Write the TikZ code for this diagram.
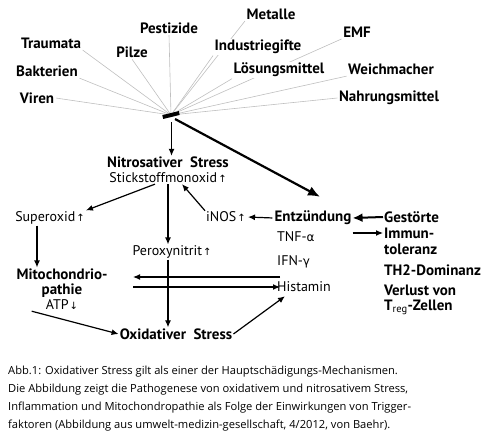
\documentclass[tikz,border=0pt]{standalone}
\usepackage{fontspec}
\setmainfont{PT Sans}
\newfontfamily\capfont{Open Sans}
\newfontfamily\symfont{DejaVu Sans}
\usetikzlibrary{arrows.meta,positioning,calc,backgrounds}
\newcommand{\arrup}{\kern1pt{\symfont\fontsize{10}{10}\selectfont ↑}}
\newcommand{\arrdn}{\kern1pt{\symfont\fontsize{10}{10}\selectfont ↓}}

\begin{document}
\begin{tikzpicture}[x=1pt,y=-1pt,>={Latex[length=7pt,width=6pt]},
 src/.style={font=\fontsize{15}{15}\selectfont\bfseries,inner sep=1.5pt,fill=white},
 bold/.style={font=\fontsize{15}{15}\selectfont\bfseries,inner sep=1pt},
 plain/.style={font=\fontsize{14}{15}\selectfont,inner sep=1pt},
 knot/.style={fill=black,minimum width=17pt,minimum height=4pt,inner sep=0pt,rotate=14},
 fan/.style={draw=gray!50,line width=0.6pt},
 arr/.style={->,line width=1.2pt},
 bigarr/.style={-{Latex[length=12pt,width=10pt]},line width=2.2pt},
 caption/.style={font=\capfont\fontsize{11.15}{18}\selectfont,align=left,inner sep=0pt}]
\useasboundingbox (0,0) rectangle (500,439);
% trigger factors
\node[src] (metalle) at (271,14) {Metalle};
\node[src] (pestizide) at (169,28) {Pestizide};
\node[src] (emf) at (357,32) {EMF};
\node[src] (traumata) at (51,43) {Traumata};
\node[src] (industrie) at (258,47) {Industriegifte};
\node[src] (pilze) at (132,52) {Pilze};
\node[src] (bakterien) at (47,71) {Bakterien};
\node[src] (loesung) at (279,70) {Lösungsmittel};
\node[src] (weich) at (391,69) {Weichmacher};
\node[src] (viren) at (37,98) {Viren};
\node[src] (nahrung) at (389,98) {Nahrungsmittel};
\node[knot] (hub) at (171,115) {};
\begin{scope}[on background layer]
\foreach \s/\a in {viren/east,bakterien/south east,traumata/south east,pilze/south,
  pestizide/south,metalle/south west,industrie/south west,emf/south west,
  loesung/south west,weich/south west,nahrung/west}
  \draw[fan] (\s.\a) -- (hub);
\end{scope}
% stress pathways
\node[bold,align=center] (nitro) at (168,170) {Nitrosativer\enspace Stress\\\fontsize{14}{15}\selectfont\mdseries Stickstoffmonoxid\arrup};
\node[plain] (superoxid) at (50,218) {Superoxid\arrup};
\node[plain] (inos) at (226,217) {iNOS\arrup};
\node[bold] (entz) at (313,218) {Entzündung};
\node[bold,anchor=west] (gest) at (383,217) {Gestörte};
\node[bold,anchor=west] (immun) at (383,233) {Immun-};
\node[bold,anchor=west] (toler) at (383,249) {toleranz};
\node[bold,anchor=west] (th2) at (383,270) {TH2-Dominanz};
\node[bold,anchor=west,align=left] (verlust) at (383,300) {Verlust von\\T\textsubscript{\mdseries reg}-Zellen};
\node[plain,anchor=west] (tnf) at (276,237) {TNF-{\symfont\fontsize{12}{12}\selectfont α}};
\node[plain,anchor=west] (ifn) at (276,262) {IFN-{\symfont\fontsize{12}{12}\selectfont γ}};
\node[plain,anchor=west] (hist) at (276,287) {Histamin};
\node[plain] (perox) at (172,252) {Peroxynitrit\arrup};
\node[bold,align=center] (mito) at (62,283) {Mitochondrio-\\pathie};
\node[plain] (atp) at (62,305) {ATP\arrdn};
\node[bold] (oxid) at (176,334) {Oxidativer\enspace Stress};
\coordinate (xl) at (133,282);
\coordinate (hl) at ([yshift=10pt]hist.west);

\draw[arr,shorten <=5pt] (hub.south) -- (hub.south |- nitro.north);
\draw[bigarr,shorten <=4pt] (hub.south) -- ([xshift=7pt,yshift=13pt]entz.north);
\draw[arr] ([xshift=-13pt]nitro.south) -- (superoxid.north east);
\draw[arr] (nitro.south) -- (nitro.south |- perox.north);
\draw[arr] (inos.north west) -- ([xshift=14pt]nitro.south);
\draw[arr,shorten <=1pt,shorten >=1pt] (entz.west) -- (inos.east);
\draw[-{Latex[length=10pt,width=9pt]},line width=2pt] (gest.west) -- (entz.east);
\draw[arr] (immun.west -| entz.east) -- (immun.west);
\draw[arr] ([xshift=-13pt]superoxid.south) -- ([xshift=-13pt]superoxid.south |- mito.north);
\draw[arr] (nitro.south |- perox.south) -- (nitro.south |- oxid.north);
\draw[arr,shorten <=-4pt] (hl) -- (hl -| xl);
\draw[arr,shorten >=-4pt] (hist.west -| xl) -- (hist.west);
\draw[arr] ([xshift=-13pt]atp.south west) -- (oxid.west);
\draw[arr] (oxid.east) -- ([xshift=9pt,yshift=-3pt]hist.south west);
% caption
\node[caption,anchor=north west] (cap) at (8,366) {Abb.1: Oxidativer Stress gilt als einer der Hauptschädigungs-Mechanismen.\\
Die Abbildung zeigt die Pathogenese von oxidativem und nitrosativem Stress,\\
Inflammation und Mitochondropathie als Folge der Einwirkungen von Trigger-\\
faktoren (Abbildung aus umwelt-medizin-gesellschaft, 4/2012, von Baehr).};
\end{tikzpicture}
\end{document}
